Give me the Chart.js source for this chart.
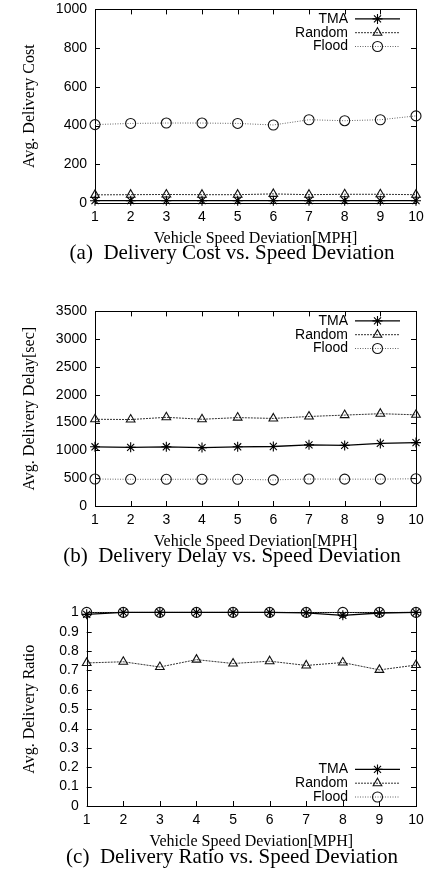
<!DOCTYPE html>
<html>
<head>
<meta charset="utf-8">
<script src="https://cdn.jsdelivr.net/npm/chart.js@4.4.1/dist/chart.umd.min.js"></script>
<style>
  body { margin: 0; background: #fff; width: 435px; height: 873px; overflow: hidden; position: relative; }
  canvas { position: absolute; left: 0; }
  .cap { position: absolute; left: 0; width: 464px; text-align: center; font: 21px "Liberation Serif", "DejaVu Serif", serif; line-height: 24px; color: #000; white-space: nowrap; }
</style>
</head>
<body>
<canvas id="c1" width="435" height="255"></canvas>
<canvas id="c2" width="435" height="255"></canvas>
<canvas id="c3" width="435" height="255"></canvas>
<div class="cap" id="cap1">(a)&nbsp; Delivery Cost vs. Speed Deviation</div>
<div class="cap" id="cap2">(b)&nbsp; Delivery Delay vs. Speed Deviation</div>
<div class="cap" id="cap3">(c)&nbsp; Delivery Ratio vs. Speed Deviation</div>
<script>
const speeds = [1, 2, 3, 4, 5, 6, 7, 8, 9, 10];
const seriesNames = ['TMA', 'Random', 'Flood'];

const costTMA    = [12, 12, 12, 12, 12, 12, 12, 12, 12, 12];
const costRandom = [42, 43, 44, 43, 43, 47, 43, 45, 45, 43];
const costFlood  = [405, 411, 413, 413, 411, 403, 430, 425, 430, 450];

const delayTMA    = [1065, 1055, 1065, 1050, 1065, 1070, 1100, 1090, 1125, 1140];
const delayRandom = [1560, 1555, 1595, 1560, 1590, 1575, 1610, 1635, 1660, 1640];
const delayFlood  = [485, 480, 480, 482, 480, 470, 485, 483, 483, 490];

const ratioTMA    = [0.99, 1, 1, 1, 1, 1, 0.998, 0.985, 0.997, 1];
const ratioRandom = [0.739, 0.745, 0.718, 0.756, 0.736, 0.748, 0.726, 0.741, 0.703, 0.728];
const ratioFlood  = [1, 1, 1, 1, 1, 1, 1, 1, 1, 1];

const sans = '"Liberation Sans", Arial, sans-serif';
const serif = '"Liberation Serif", "Times New Roman", serif';
const PAD_TOP = 12, XAXIS_H = 45, RIGHT = 416;

// gnuplot-like look: black frame, inward ticks on all four sides
const framePlugin = {
    id: 'frame',
    beforeDatasetsDraw(chart) {
        const { ctx, chartArea: a, scales: { x, y } } = chart;
        const tl = 5;
        ctx.save();
        ctx.strokeStyle = '#000';
        ctx.lineWidth = 1;
        ctx.beginPath();
        x.ticks.forEach((t, i) => {
            const px = Math.round(x.getPixelForTick(i)) + 0.5;
            ctx.moveTo(px, a.bottom); ctx.lineTo(px, a.bottom - tl);
            ctx.moveTo(px, a.top); ctx.lineTo(px, a.top + tl);
        });
        y.ticks.forEach((t, i) => {
            const py = Math.round(y.getPixelForTick(i)) + 0.5;
            ctx.moveTo(a.left, py); ctx.lineTo(a.left + tl, py);
            ctx.moveTo(a.right, py); ctx.lineTo(a.right - tl, py);
        });
        ctx.stroke();
        ctx.strokeRect(Math.round(a.left) + 0.5, Math.round(a.top) + 0.5, Math.round(a.right - a.left), Math.round(a.bottom - a.top));
        ctx.restore();
    }
};

// legend: right-aligned label, then a line sample with the marker in its middle
const keyPlugin = {
    id: 'key',
    afterDraw(chart, args, opts) {
        const { ctx, chartArea: a } = chart;
        ctx.save();
        ctx.font = '14px ' + sans;
        ctx.textAlign = 'right';
        ctx.textBaseline = 'middle';
        chart.data.datasets.forEach((ds, i) => {
            const yy = opts.bottom ? a.bottom - 9 - (2 - i) * 13.8 : a.top + 9.5 + i * 13.8;
            ctx.fillStyle = '#000';
            ctx.fillText(ds.label, a.right - 68, yy);
            ctx.strokeStyle = ds.borderColor;
            ctx.lineWidth = ds.borderWidth;
            ctx.setLineDash(ds.borderDash || []);
            ctx.beginPath();
            ctx.moveTo(a.right - 61, yy); ctx.lineTo(a.right - 16, yy);
            ctx.stroke();
            ctx.setLineDash([]);
            ctx.strokeStyle = ds.pointBorderColor;
            ctx.fillStyle = 'rgba(0,0,0,0)';
            ctx.lineWidth = ds.pointBorderWidth;
            Chart.helpers.drawPoint(ctx, { pointStyle: ds.pointStyle, radius: ds.pointRadius, borderWidth: ds.pointBorderWidth, rotation: 0 }, a.right - 38.5, yy);
        });
        ctx.restore();
    }
};

function makeSets(a, b, c) {
    const common = { fill: false, tension: 0, clip: false, pointBackgroundColor: 'rgba(0,0,0,0)', pointBorderWidth: 1.1, pointHoverRadius: 4 };
    return [
        { ...common, label: seriesNames[0], data: a, borderColor: '#000', borderWidth: 1.3, pointStyle: 'star', pointRadius: 5, pointBorderColor: '#000' },
        { ...common, label: seriesNames[1], data: b, borderColor: '#333', borderWidth: 1, borderDash: [2, 1], pointStyle: 'triangle', pointRadius: 5, pointBorderColor: '#111' },
        { ...common, label: seriesNames[2], data: c, borderColor: '#666', borderWidth: 1, borderDash: [1, 1.5], pointStyle: 'circle', pointRadius: 5, pointBorderColor: '#111' }
    ];
}

function plot(id, capId, top, bottom, left, yTitle, yMax, yStep, sets, keyBottom, fmt) {
    const el = document.getElementById(id);
    el.style.top = (top - PAD_TOP) + 'px';
    el.height = Math.round(bottom - top + PAD_TOP + XAXIS_H);
    document.getElementById(capId).style.top = (bottom + 37) + 'px';
    new Chart(el, {
        type: 'line',
        data: { labels: speeds, datasets: sets },
        options: {
            responsive: false, animation: false, events: [],
            layout: { autoPadding: false, padding: { top: PAD_TOP, right: 435 - RIGHT, bottom: 0, left: 0 } },
            plugins: { legend: { display: false }, tooltip: { enabled: false }, key: { bottom: keyBottom } },
            scales: {
                x: {
                    type: 'category', offset: false,
                    grid: { display: false, tickLength: 0 }, border: { display: false },
                    ticks: { color: '#000', font: { size: 14, family: sans }, padding: 6, maxRotation: 0, autoSkip: false },
                    title: { display: true, text: 'Vehicle Speed Deviation[MPH]', color: '#000', font: { size: 16, family: serif }, padding: { top: 0, bottom: 0 } },
                    afterFit(s) { s.height = XAXIS_H; }
                },
                y: {
                    min: 0, max: yMax,
                    grid: { display: false, tickLength: 0 }, border: { display: false },
                    ticks: { stepSize: yStep, autoSkip: false, color: '#000', font: { size: 14, family: sans }, padding: 8, callback: fmt },
                    title: { display: true, text: yTitle, color: '#000', font: { size: 16, family: serif }, padding: { top: 20.4, bottom: 0 } },
                    afterFit(s) { s.width = left; }
                }
            }
        },
        plugins: [framePlugin, keyPlugin]
    });
}

const intFmt = v => String(Math.round(v));
plot('c1', 'cap1', 5, 203, 95, 'Avg. Delivery Cost', 1000, 200, makeSets(costTMA, costRandom, costFlood), false, intFmt);
plot('c2', 'cap2', 306.7, 505.7, 95, 'Avg. Delivery Delay[sec]', 3500, 500, makeSets(delayTMA, delayRandom, delayFlood), false, intFmt);
plot('c3', 'cap3', 608.3, 806.7, 86.7, 'Avg. Delivery Ratio', 1, 0.1, makeSets(ratioTMA, ratioRandom, ratioFlood), true, v => String(+v.toFixed(1)));
</script>
</body>
</html>
